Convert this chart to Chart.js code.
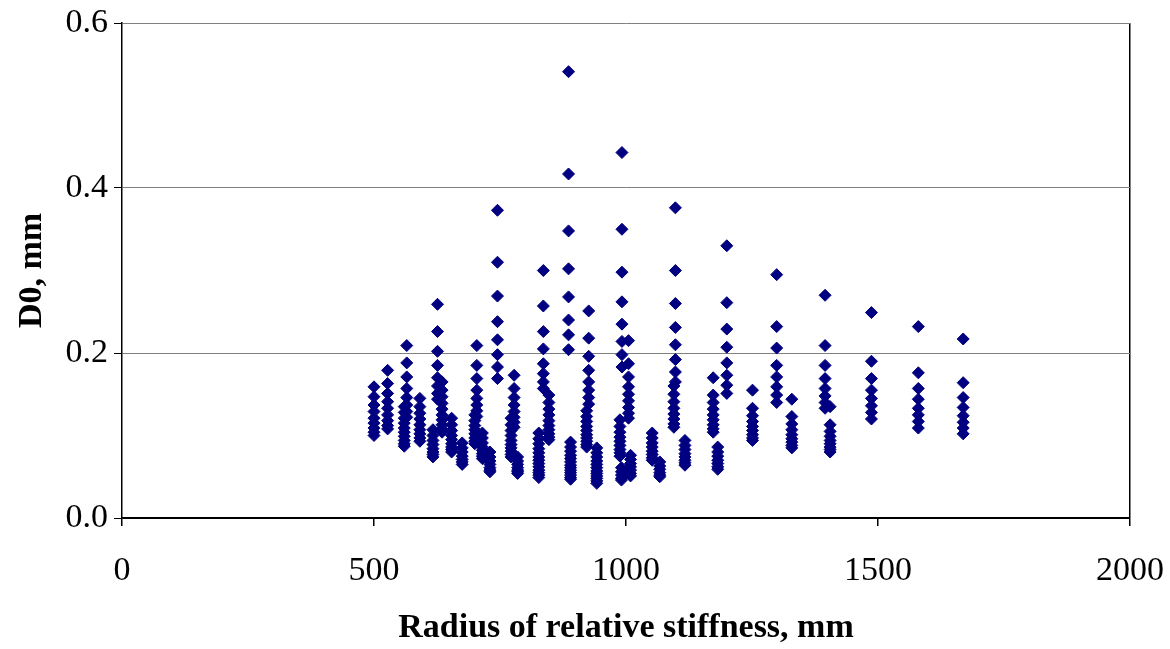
<!DOCTYPE html>
<html>
<head>
<meta charset="utf-8">
<script src="https://cdn.jsdelivr.net/npm/chart.js@4"></script>
<style>
  html, body { margin: 0; padding: 0; background: #fff; }
  #wrap { width: 1170px; height: 649px; }
</style>
</head>
<body>
<div id="wrap"><canvas id="d0Chart" width="1170" height="649"></canvas></div>
<script>
// columns with a high first value (one x, several D0 values each)
const upperRadius = [565, 626, 704, 745, 778, 836, 886, 926, 992, 1005, 1098, 1173, 1200, 1251, 1299, 1329, 1395, 1405, 1487, 1580, 1669];
const upperD0 = [
    [0.209, 0.188, 0.171, 0.157, 0.146, 0.137, 0.129, 0.122],
    [0.259, 0.226, 0.202, 0.185, 0.170, 0.160, 0.151, 0.144],
    [0.209, 0.185, 0.169, 0.155, 0.145, 0.137, 0.130, 0.123],
    [0.373, 0.310, 0.269, 0.238, 0.216, 0.198, 0.183, 0.169],
    [0.173, 0.157, 0.146, 0.137, 0.129, 0.122, 0.116, 0.110],
    [0.300, 0.257, 0.226, 0.205, 0.187, 0.175, 0.165, 0.157],
    [0.541, 0.417, 0.348, 0.302, 0.268, 0.240, 0.222, 0.204],
    [0.251, 0.218, 0.196, 0.179, 0.165, 0.155, 0.146, 0.138],
    [0.443, 0.350, 0.298, 0.262, 0.235, 0.214, 0.198, 0.183],
    [0.215, 0.187, 0.171, 0.159, 0.150, 0.142, 0.134, 0.127, 0.121],
    [0.376, 0.300, 0.260, 0.231, 0.210, 0.192, 0.177, 0.165],
    [0.170, 0.149, 0.140, 0.132, 0.125, 0.119, 0.113, 0.108, 0.104],
    [0.330, 0.261, 0.229, 0.207, 0.188, 0.173, 0.161, 0.151],
    [0.155, 0.133, 0.124, 0.117, 0.111, 0.106, 0.101, 0.097, 0.094],
    [0.295, 0.232, 0.206, 0.185, 0.171, 0.159, 0.149, 0.140],
    [0.144, 0.123, 0.114, 0.107, 0.101, 0.096, 0.092, 0.088, 0.085],
    [0.270, 0.209, 0.185, 0.169, 0.157, 0.148, 0.140, 0.133],
    [0.135, 0.113, 0.105, 0.099, 0.094, 0.090, 0.086, 0.083, 0.080],
    [0.249, 0.190, 0.169, 0.155, 0.145, 0.136, 0.128, 0.120],
    [0.232, 0.176, 0.157, 0.144, 0.133, 0.125, 0.117, 0.109],
    [0.217, 0.164, 0.146, 0.134, 0.124, 0.116, 0.109, 0.102]
];

// dense low stacks
const lowerRadius = [500, 527, 560, 591, 617, 635, 654, 675, 700, 715, 730, 772, 785, 827, 847, 890, 922, 942, 988, 991, 1009, 1052, 1067, 1095, 1117, 1182];
const lowerD0 = [
    [0.159, 0.147, 0.137, 0.129, 0.121, 0.115, 0.109, 0.104, 0.100],
    [0.179, 0.163, 0.151, 0.141, 0.133, 0.125, 0.118, 0.112, 0.108],
    [0.135, 0.128, 0.121, 0.115, 0.109, 0.104, 0.099, 0.094, 0.090, 0.087],
    [0.145, 0.135, 0.127, 0.120, 0.113, 0.107, 0.102, 0.097, 0.093],
    [0.107, 0.100, 0.094, 0.089, 0.084, 0.080, 0.077, 0.074],
    [0.165, 0.155, 0.147, 0.139, 0.132, 0.125, 0.119, 0.113, 0.108, 0.104],
    [0.121, 0.113, 0.106, 0.100, 0.095, 0.090, 0.086, 0.083, 0.080],
    [0.091, 0.085, 0.080, 0.075, 0.071, 0.068, 0.065],
    [0.125, 0.118, 0.112, 0.107, 0.102, 0.097, 0.093, 0.090],
    [0.103, 0.097, 0.091, 0.086, 0.082, 0.078, 0.075, 0.072],
    [0.080, 0.074, 0.069, 0.065, 0.061, 0.058, 0.056],
    [0.121, 0.113, 0.106, 0.100, 0.094, 0.089, 0.085, 0.081, 0.077, 0.074],
    [0.074, 0.069, 0.065, 0.061, 0.058, 0.056, 0.054],
    [0.103, 0.096, 0.090, 0.084, 0.079, 0.074, 0.070, 0.066, 0.062, 0.058, 0.055, 0.052, 0.049],
    [0.149, 0.140, 0.132, 0.125, 0.118, 0.112, 0.107, 0.102, 0.098, 0.095],
    [0.092, 0.086, 0.081, 0.076, 0.072, 0.068, 0.064, 0.061, 0.058, 0.055, 0.052, 0.049, 0.047],
    [0.130, 0.123, 0.117, 0.111, 0.106, 0.101, 0.097, 0.093, 0.089, 0.086],
    [0.085, 0.079, 0.074, 0.069, 0.065, 0.061, 0.057, 0.054, 0.051, 0.048, 0.045, 0.042],
    [0.119, 0.111, 0.104, 0.098, 0.093, 0.088, 0.083, 0.079, 0.075],
    [0.061, 0.056, 0.052, 0.048, 0.046],
    [0.076, 0.071, 0.066, 0.062, 0.058, 0.054, 0.051],
    [0.103, 0.097, 0.091, 0.086, 0.081, 0.077, 0.073, 0.070],
    [0.068, 0.063, 0.059, 0.055, 0.052, 0.050],
    [0.160, 0.150, 0.141, 0.133, 0.126, 0.120, 0.114, 0.110],
    [0.094, 0.088, 0.083, 0.078, 0.074, 0.070, 0.067, 0.064],
    [0.086, 0.080, 0.075, 0.070, 0.066, 0.062, 0.059]
];

const xTicks = [0, 500, 1000, 1500, 2000];
const yTicks = [0, 0.2, 0.4, 0.6];

function toPoints(radii, cols) {
    const pts = [];
    radii.forEach((r, i) => {
        cols[i].forEach(v => pts.push({ x: r, y: v }));
    });
    return pts;
}

const points = toPoints(upperRadius, upperD0).concat(toPoints(lowerRadius, lowerD0));

const serif = "'Liberation Serif', 'Times New Roman', serif";

const ctx = document.getElementById('d0Chart').getContext('2d');
new Chart(ctx, {
    type: 'scatter',
    data: {
        datasets: [{
            label: 'D0',
            data: points,
            pointStyle: 'rectRot',
            pointRadius: 6,
            pointBorderWidth: 1,
            backgroundColor: '#000080',
            borderColor: '#000080'
        }]
    },
    options: {
        responsive: false,
        animation: false,
        layout: { padding: { left: 12, right: 40, top: 23, bottom: 0 } },
        plugins: {
            legend: { display: false },
            tooltip: { enabled: false }
        },
        scales: {
            x: {
                type: 'linear',
                min: 0,
                max: 2000,
                afterBuildTicks: s => { s.ticks = xTicks.map(v => ({ value: v })); },
                afterFit: s => {
                    s.height = 131;
                    s.paddingLeft = 0;
                    s.paddingRight = 0;
                },
                border: { color: '#000', width: 1.5 },
                grid: {
                    color: c => c.tick && c.tick.value === 2000 ? '#000' : 'rgba(0,0,0,0)',
                    lineWidth: 1.5,
                    tickColor: '#000',
                    tickLength: 8,
                    drawTicks: true
                },
                ticks: {
                    color: '#000',
                    padding: 25,
                    callback: v => String(v),
                    font: { family: serif, size: 34 }
                },
                title: {
                    display: true,
                    text: 'Radius of relative stiffness, mm',
                    color: '#000',
                    padding: { top: 15, bottom: 0 },
                    font: { family: serif, size: 34, weight: 'bold' }
                }
            },
            y: {
                type: 'linear',
                min: 0,
                max: 0.6,
                afterBuildTicks: s => { s.ticks = yTicks.map(v => ({ value: v })); },
                afterFit: s => {
                    s.width = 110;
                    s.paddingTop = 0;
                    s.paddingBottom = 0;
                },
                border: { color: '#000', width: 1.5 },
                grid: {
                    color: c => c.tick && c.tick.value === 0 ? '#000' : '#808080',
                    lineWidth: 1,
                    tickColor: '#000',
                    tickLength: 8
                },
                ticks: {
                    color: '#000',
                    padding: 6,
                    callback: v => v.toFixed(1),
                    font: { family: serif, size: 34 }
                },
                title: {
                    display: true,
                    text: 'D0, mm',
                    color: '#000',
                    padding: { top: 0, bottom: 4 },
                    font: { family: serif, size: 34, weight: 'bold' }
                }
            }
        }
    }
});
</script>
</body>
</html>
